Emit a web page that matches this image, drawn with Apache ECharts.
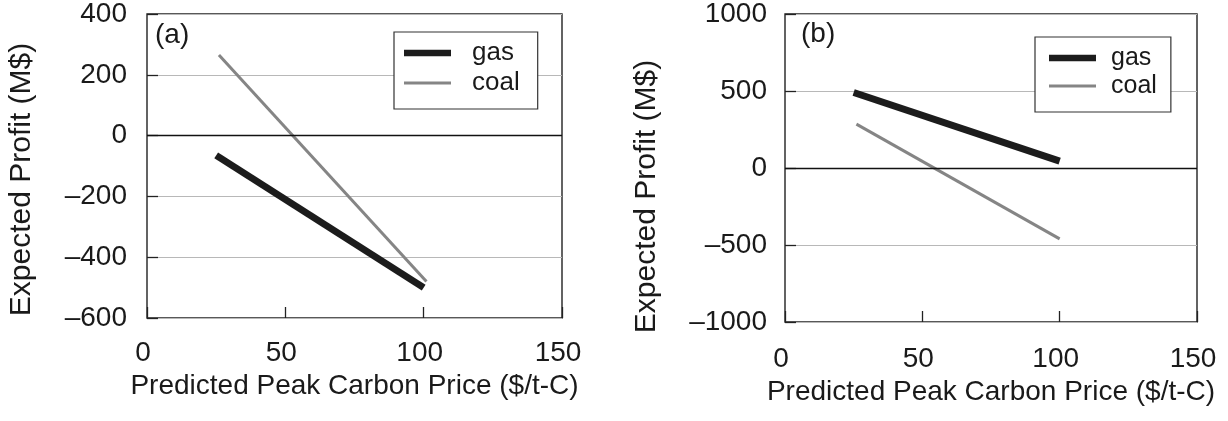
<!DOCTYPE html>
<html>
<head>
<meta charset="utf-8">
<script src="https://cdn.jsdelivr.net/npm/echarts@6/dist/echarts.min.js"></script>
<style>
  html, body { margin: 0; padding: 0; background: #fff; }
  #chart { width: 1228px; height: 421px; }
</style>
</head>
<body>
<div id="chart"></div>
<script>
// Panel (a): expected profit vs predicted peak carbon price
const priceGasA = [25, 100];
const profitGasA = [-65, -500];
const priceCoalA = [26, 101];
const profitCoalA = [265, -480];

// Panel (b)
const priceGasB = [25, 100];
const profitGasB = [490, 45];
const priceCoalB = [26, 100];
const profitCoalB = [285, -460];

const seriesNames = ['gas', 'coal'];
const panelLabels = ['(a)', '(b)'];
const xTitle = 'Predicted Peak Carbon Price ($/t-C)';
const yTitle = 'Expected Profit (M$)';

const FONT = '"Liberation Sans", Arial, Helvetica, sans-serif';
const TXT = '#1a1a1a';
const GAS_COLOR = '#1c1c1c';
const COAL_COLOR = '#858585';

const pairs = (xs, ys) => xs.map((x, i) => [x, ys[i]]);
const dash = v => String(v).replace('-', '\u2013');

function xAxisFor(gridIndex, nameGap, labelMargin) {
  return {
    type: 'value', gridIndex, min: 0, max: 150, interval: 50,
    name: xTitle, nameLocation: 'middle', nameGap,
    nameTextStyle: { fontFamily: FONT, fontSize: 28, color: TXT },
    axisLine: { show: false, onZero: false },
    axisTick: { show: true, inside: true, length: 11, lineStyle: { color: '#222', width: 1.3 } },
    axisLabel: { fontFamily: FONT, fontSize: 28, color: TXT, margin: labelMargin, padding: [0, 8, 0, 0] },
    splitLine: { show: false }
  };
}

function yAxisFor(gridIndex, min, max, interval, labelPad, nameGap, nameShift, labelMargin) {
  return {
    type: 'value', gridIndex, min, max, interval,
    name: yTitle, nameLocation: 'middle', nameGap,
    nameTextStyle: { fontFamily: FONT, fontSize: 30, color: TXT, padding: [0, nameShift, 0, 0] },
    axisLine: { show: false, onZero: false },
    axisTick: { show: true, inside: true, length: 11, lineStyle: { color: '#222', width: 1.3 } },
    axisLabel: {
      fontFamily: FONT, fontSize: 28, color: TXT, margin: labelMargin,
      padding: [labelPad, 0, 0, 0], formatter: dash
    },
    splitLine: { show: true, lineStyle: { color: '#b8b8b8', width: 1.2 } }
  };
}

function zeroLine() {
  return {
    silent: true, symbol: 'none', label: { show: false },
    lineStyle: { color: '#111', width: 1.4, type: 'solid' },
    emphasis: { disabled: true },
    data: [{ yAxis: 0 }]
  };
}

function line(name, data, axisIdx, color, width, withZero) {
  const s = {
    name, type: 'line', data, xAxisIndex: axisIdx, yAxisIndex: axisIdx,
    symbol: 'none', silent: true, animation: false,
    lineStyle: { color, width, cap: 'butt' },
    itemStyle: { color }
  };
  if (withZero) s.markLine = zeroLine();
  return s;
}

// legend swatch: a horizontal bar of the given thickness centred in a 47x26 box
const bar = t => {
  const y0 = 13 - t / 2, y1 = 13 + t / 2;
  return 'path://M0,0 M0,' + y0 + ' L47,' + y0 + ' L47,' + y1 + ' L0,' + y1 + ' Z M47,26';
};

function legendAt(left, top, padding, textPad, fontSize, itemGap) {
  return {
    orient: 'vertical', left, top,
    data: [
      { name: seriesNames[0], icon: bar(6.5), itemStyle: { color: GAS_COLOR } },
      { name: seriesNames[1], icon: bar(3), itemStyle: { color: COAL_COLOR } }
    ],
    backgroundColor: '#fff', borderColor: '#333', borderWidth: 1.2,
    padding, itemGap, itemWidth: 47, itemHeight: 26,
    selectedMode: false,
    textStyle: { fontFamily: FONT, fontSize, color: TXT, padding: [0, 0, 0, textPad] }
  };
}

const labelStyle = { fontFamily: FONT, fontSize: 28, fontWeight: 'normal', color: TXT };

const chart = echarts.init(document.getElementById('chart'), null, { renderer: 'canvas' });
chart.setOption({
  animation: false,
  backgroundColor: '#fff',
  title: [
    { text: panelLabels[0], left: 155, top: 21, padding: 0, textStyle: labelStyle },
    { text: panelLabels[1], left: 801, top: 20, padding: 0, textStyle: labelStyle }
  ],
  legend: [
    legendAt(394, 32, [8, 18, 13, 10], 16, 26, 4),
    legendAt(1035, 37, [8, 14, 13, 14], 10, 25, 2)
  ],
  grid: [
    { left: 147, top: 11, width: 415, height: 307, show: true, borderColor: '#222', borderWidth: 1.4, backgroundColor: 'transparent', containLabel: false },
    { left: 785, top: 9, width: 412, height: 313, show: true, borderColor: '#222', borderWidth: 1.4, backgroundColor: 'transparent', containLabel: false }
  ],
  xAxis: [xAxisFor(0, 54, 21), xAxisFor(1, 55, 23)],
  yAxis: [
    yAxisFor(0, -600, 400, 200, 12, 110, 27, 20),
    yAxisFor(1, -1000, 1000, 500, 18, 123, 57, 18)
  ],
  series: [
    line(seriesNames[1], pairs(priceCoalA, profitCoalA), 0, COAL_COLOR, 3, true),
    line(seriesNames[0], pairs(priceGasA, profitGasA), 0, GAS_COLOR, 7, false),
    line(seriesNames[1], pairs(priceCoalB, profitCoalB), 1, COAL_COLOR, 3, true),
    line(seriesNames[0], pairs(priceGasB, profitGasB), 1, GAS_COLOR, 7, false)
  ]
});
</script>
</body>
</html>
